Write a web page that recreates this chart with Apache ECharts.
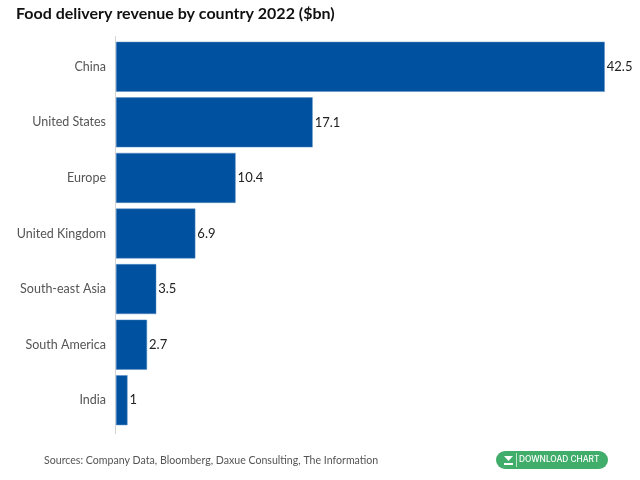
<!DOCTYPE html>
<html>
<head>
<meta charset="utf-8">
<script src="https://cdn.jsdelivr.net/npm/echarts@6/dist/echarts.min.js"></script>
<style>
html, body { margin: 0; padding: 0; background: #fff; }
#chart { width: 640px; height: 480px; }
</style>
</head>
<body>
<div id="chart"></div>
<script>
const categories = ['China', 'United States', 'Europe', 'United Kingdom', 'South-east Asia', 'South America', 'India'];
const revenue = [42.5, 17.1, 10.4, 6.9, 3.5, 2.7, 1];
const chartTitle = 'Food delivery revenue by country 2022 ($bn)';
const sourceNote = 'Sources: Company Data, Bloomberg, Daxue Consulting, The Information';
const buttonLabel = 'DOWNLOAD CHART';

let chart = echarts.init(document.getElementById('chart'));
let option = {
    animation: false,
    backgroundColor: '#fff',
    title: {
        text: chartTitle,
        left: 16,
        top: 6,
        padding: 0,
        textStyle: { fontFamily: 'Lato', fontSize: 16, fontWeight: 'bold', color: '#111' }
    },
    grid: { left: 116, top: 39, width: 506, height: 389 },
    xAxis: {
        type: 'value',
        min: 0,
        max: 44,
        show: false
    },
    yAxis: {
        type: 'category',
        inverse: true,
        data: categories,
        axisLine: { show: false },
        axisTick: { show: false },
        axisLabel: { fontFamily: 'Lato', fontSize: 12.5, color: '#555', margin: 10 }
    },
    series: [
        {
            type: 'bar',
            data: revenue,
            barWidth: 50,
            itemStyle: { color: '#00519f', borderColor: '#5b8fc4', borderWidth: 0.5 },
            label: {
                show: true,
                position: 'right',
                distance: 2,
                fontFamily: 'Lato',
                fontSize: 13,
                color: '#222'
            }
        }
    ],
    graphic: [
        // axis line runs a little past the bars on both ends
        { type: 'line', shape: { x1: 115.5, y1: 36, x2: 115.5, y2: 434 }, style: { stroke: '#d4d4d4', lineWidth: 1 } },
        { type: 'text', left: 44, top: 455, style: { text: sourceNote, fontFamily: 'Lato', fontSize: 10.6, fill: '#555' } },
        { type: 'rect', shape: { x: 496, y: 451, width: 112, height: 18, r: 9 }, style: { fill: '#41ad6a' } },
        { type: 'polygon', shape: { points: [[504, 456], [513, 456], [508.5, 461]] }, style: { fill: '#fff' } },
        { type: 'rect', shape: { x: 504, y: 463, width: 9, height: 2 }, style: { fill: '#fff' } },
        { type: 'line', shape: { x1: 516.5, y1: 453, x2: 516.5, y2: 467 }, style: { stroke: '#bfe5cd', lineWidth: 1 } },
        { type: 'text', left: 519, top: 456, style: { text: buttonLabel, fontFamily: 'Inter', fontSize: 8.3, fontWeight: 500, fill: '#fff' } }
    ]
};
chart.setOption(option);
</script>
</body>
</html>
